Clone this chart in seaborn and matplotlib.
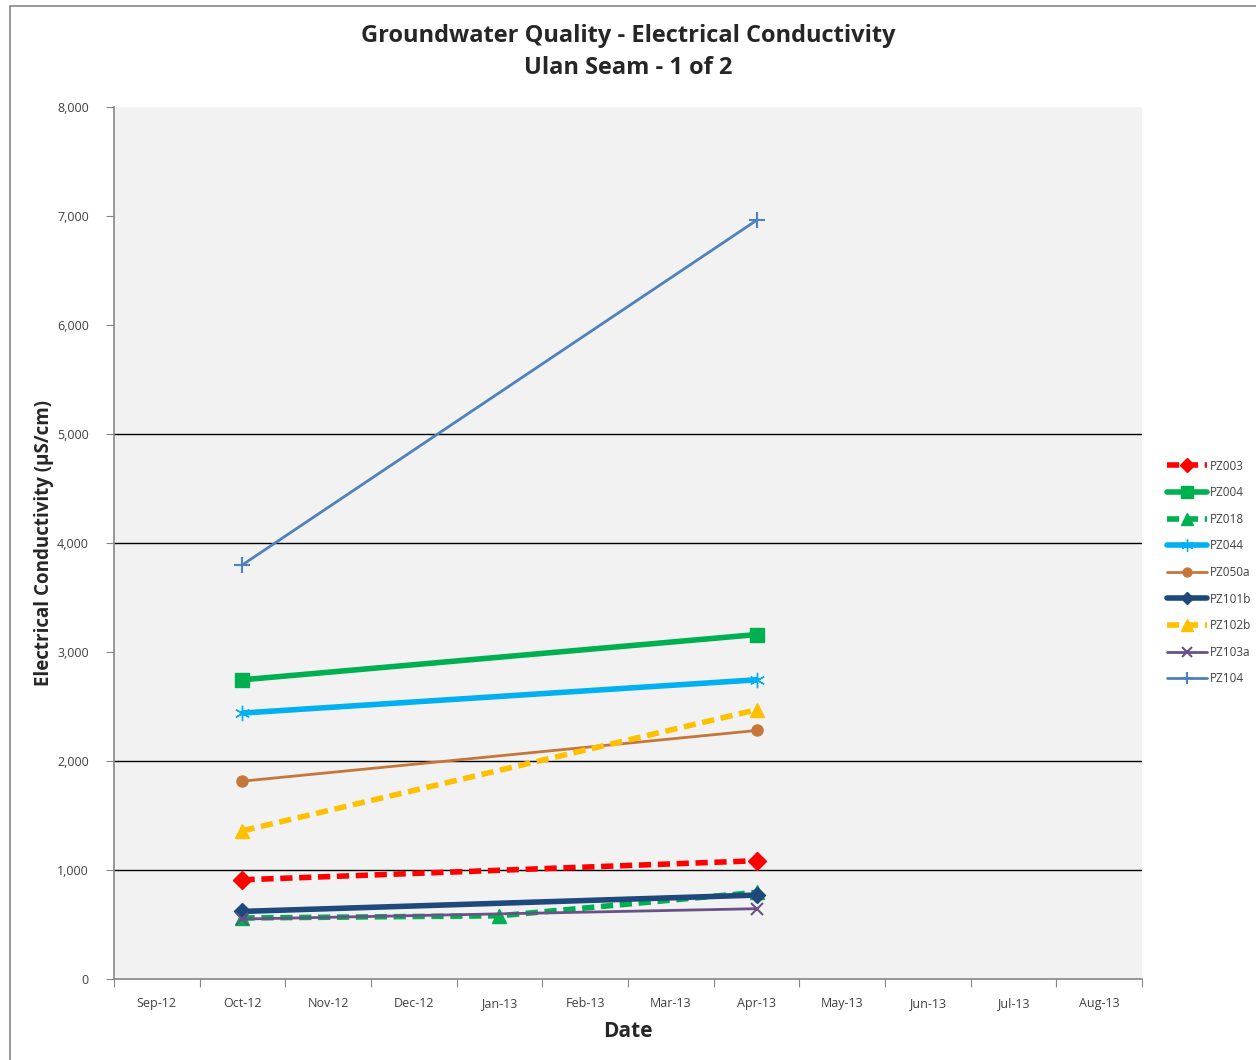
import numpy as np
import pandas as pd
import matplotlib
matplotlib.use("Agg")
import matplotlib.pyplot as plt
import seaborn as sns
from matplotlib.ticker import FixedLocator, FuncFormatter

# --- data ---
MONTHS = ["Sep-12", "Oct-12", "Nov-12", "Dec-12", "Jan-13", "Feb-13",
          "Mar-13", "Apr-13", "May-13", "Jun-13", "Jul-13", "Aug-13"]

pz003_dates = ["Oct-12", "Apr-13"]
pz003_ec = [910, 1085]
pz004_dates = ["Oct-12", "Apr-13"]
pz004_ec = [2745, 3160]
pz018_dates = ["Oct-12", "Jan-13", "Apr-13"]
pz018_ec = [560, 580, 795]
pz044_dates = ["Oct-12", "Apr-13"]
pz044_ec = [2440, 2745]
pz050a_dates = ["Oct-12", "Apr-13"]
pz050a_ec = [1815, 2280]
pz101b_dates = ["Oct-12", "Apr-13"]
pz101b_ec = [620, 770]
pz102b_dates = ["Oct-12", "Apr-13"]
pz102b_ec = [1360, 2470]
pz103a_dates = ["Oct-12", "Apr-13"]
pz103a_ec = [550, 645]
pz104_dates = ["Oct-12", "Apr-13"]
pz104_ec = [3800, 6960]

WELLS = ["PZ003", "PZ004", "PZ018", "PZ044", "PZ050a", "PZ101b", "PZ102b", "PZ103a", "PZ104"]
WELL_DATES = [pz003_dates, pz004_dates, pz018_dates, pz044_dates, pz050a_dates,
              pz101b_dates, pz102b_dates, pz103a_dates, pz104_dates]
WELL_EC = [pz003_ec, pz004_ec, pz018_ec, pz044_ec, pz050a_ec,
           pz101b_ec, pz102b_ec, pz103a_ec, pz104_ec]

# --- styles ---
STYLES = {
    "PZ003":  dict(color="#FF0000", ls=(0, (2.2, 1.2)), lw=4.0, marker="D", ms=9),
    "PZ004":  dict(color="#00B050", ls="-", lw=4.0, marker="s", ms=10),
    "PZ018":  dict(color="#00B050", ls=(0, (2.2, 1.2)), lw=4.0, marker="^", ms=10),
    "PZ044":  dict(color="#00B0F0", ls="-", lw=4.0, marker=(6, 2, 0), ms=11),
    "PZ050a": dict(color="#C5773B", ls="-", lw=2.0, marker="o", ms=8),
    "PZ101b": dict(color="#1F497D", ls="-", lw=4.0, marker="D", ms=8),
    "PZ102b": dict(color="#FFC000", ls=(0, (2.2, 1.2)), lw=4.0, marker="^", ms=10),
    "PZ103a": dict(color="#6A5288", ls="-", lw=2.0, marker="x", ms=9),
    "PZ104":  dict(color="#4F81BD", ls="-", lw=2.0, marker="+", ms=11),
}

rows = []
for well, dates, vals in zip(WELLS, WELL_DATES, WELL_EC):
    for d, v in zip(dates, vals):
        rows.append({"well": well, "pos": MONTHS.index(d), "ec": v})
df = pd.DataFrame(rows)

sns.set_style("white")
plt.rcParams["font.family"] = ["Open Sans", "DejaVu Sans"]

fig = plt.figure(figsize=(12.56, 10.6), dpi=100)
ax = fig.add_axes([114 / 1256, 1 - 979 / 1060, 1028 / 1256, 872 / 1060])
ax.set_facecolor("#F2F2F2")

# outer frame of the chart area
fig.patches.append(plt.Rectangle((10 / 1256, -0.01), 1.2, 1 - 6 / 1060 + 0.01,
                                 transform=fig.transFigure, fill=False,
                                 edgecolor="#868686", lw=1.2))

for y in [1000, 2000, 4000, 5000]:
    ax.axhline(y, color="black", lw=1.0, zorder=0.5)

for well in WELLS:
    st = STYLES[well]
    sub = df[df["well"] == well]
    sns.lineplot(data=sub, x="pos", y="ec", ax=ax, color=st["color"],
                 linestyle=st["ls"], lw=st["lw"], marker=st["marker"],
                 markersize=st["ms"], markeredgecolor=st["color"],
                 markeredgewidth=1.5 if st["marker"] in ("x", "+") else 1,
                 label=well, legend=False)

ax.set_xlim(-0.5, len(MONTHS) - 0.5)
ax.set_ylim(0, 8000)

ax.xaxis.set_major_locator(FixedLocator(np.arange(-0.5, len(MONTHS), 1.0)))
ax.xaxis.set_minor_locator(FixedLocator(np.arange(len(MONTHS))))
ax.set_xticklabels([], minor=False)
ax.set_xticklabels(MONTHS, minor=True)
ax.tick_params(axis="x", which="major", length=6, color="#868686", direction="out", bottom=True)
ax.tick_params(axis="x", which="minor", length=0, pad=13, labelsize=9, labelcolor="#404040")

ax.set_yticks(np.arange(0, 8001, 1000))
ax.yaxis.set_major_formatter(FuncFormatter(lambda v, p: f"{int(v):,}"))
ax.tick_params(axis="y", length=6, color="#868686", direction="out", left=True,
               labelsize=9, labelcolor="#404040", pad=12)

for s in ["top", "right"]:
    ax.spines[s].set_visible(False)
for s in ["left", "bottom"]:
    ax.spines[s].set_color("#868686")
    ax.spines[s].set_linewidth(1.2)

ax.set_xlabel("Date", fontsize=15, fontweight="bold", labelpad=8)
ax.set_ylabel("Electrical Conductivity (\u00b5S/cm)", fontsize=13.5, fontweight="bold", labelpad=2)
fig.suptitle("Groundwater Quality - Electrical Conductivity\nUlan Seam - 1 of 2",
             fontsize=17, fontweight="bold", y=1 - 24 / 1060, linespacing=1.45)

handles, labels = ax.get_legend_handles_labels()
fig.legend(handles, labels, loc="upper left", bbox_to_anchor=(1156 / 1256, 1 - 449 / 1060),
           frameon=False, fontsize=8.5, handlelength=3.4, handletextpad=0.25,
           labelspacing=1.15, labelcolor="#404040", markerscale=0.8)

fig.savefig("out.png", dpi=100)
